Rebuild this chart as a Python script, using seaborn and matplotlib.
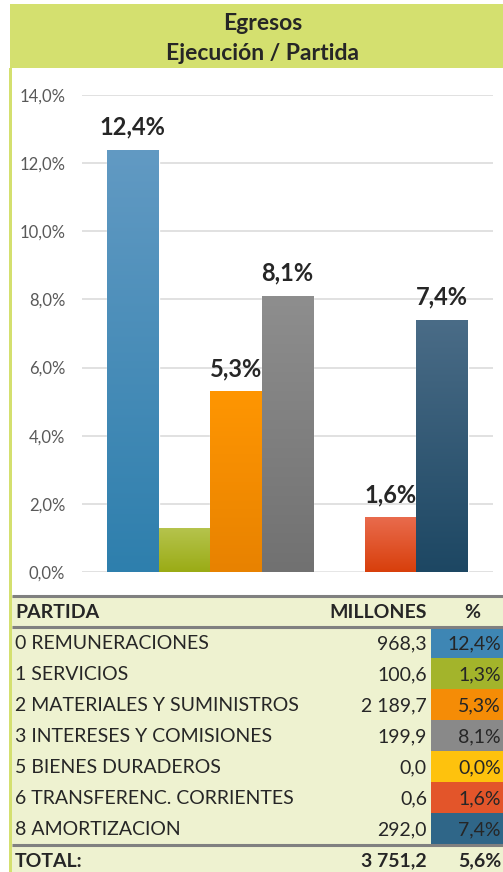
import numpy as np
import pandas as pd
import matplotlib
matplotlib.use("Agg")
import matplotlib.pyplot as plt
from matplotlib.patches import Rectangle
from matplotlib.colors import LinearSegmentedColormap
from matplotlib.ticker import FuncFormatter
import seaborn as sns

# data
partidas = ["0 REMUNERACIONES", "1 SERVICIOS", "2 MATERIALES Y SUMINISTROS",
            "3 INTERESES Y COMISIONES", "5 BIENES DURADEROS",
            "6 TRANSFERENC. CORRIENTES", "8 AMORTIZACION"]
millones = [968.3, 100.6, 2189.7, 199.9, 0.0, 0.6, 292.0]
pct = [12.4, 1.3, 5.3, 8.1, 0.0, 1.6, 7.4]
show_label = [True, False, True, True, False, True, True]
total_millones = 3751.2
total_pct = 5.6

cell_colors = ["#3e86b4", "#a3b42b", "#f58c06", "#898989", "#fec20d", "#e3552a", "#2f6688"]
bar_top = ["#629ac3", "#b6c44e", "#ff9602", "#8e8e8e", "#fec20d", "#e96b4d", "#4a6c87"]
bar_bottom = ["#2e7fad", "#9aab15", "#e88200", "#717171", "#f0b000", "#d83f0b", "#1d4763"]

W, H = 503, 872
GREEN = "#d4e06f"
TABLE_BG = "#eef2d0"
LINE = "#808080"
FS = 14


def fmt_num(v):
    return f"{v:,.1f}".replace(",", " ").replace(".", ",")


def fmt_pct(v):
    return f"{v:.1f}%".replace(".", ",")


sns.set_theme(style="white")
plt.rcParams["font.family"] = ["Lato", "DejaVu Sans"]

fig = plt.figure(figsize=(W / 100, H / 100), dpi=100)

# background canvas in pixel coordinates
bg = fig.add_axes([0, 0, 1, 1])
bg.set_xlim(0, W)
bg.set_ylim(H, 0)
bg.axis("off")

bg.add_patch(Rectangle((10, 4), W - 10, 64, color=GREEN, lw=0))
bg.add_patch(Rectangle((9.5, 68), 2.5, H - 68, color=GREEN, lw=0))
bg.text(263, 23, "Egresos", ha="center", va="center", fontsize=16.5, fontweight="bold")
bg.text(263, 54, "Ejecución / Partida", ha="center", va="center", fontsize=16.5, fontweight="bold")

# table
bg.add_patch(Rectangle((12, 596), W - 12, H - 596, color=TABLE_BG, lw=0))
row_top, row_h = 627, 31
for i, (name, m, p) in enumerate(zip(partidas, millones, pct)):
    y0 = row_top + i * row_h
    yc = y0 + row_h / 2 + 1
    bg.add_patch(Rectangle((431, y0), W - 431, row_h, color=cell_colors[i], lw=0))
    bg.text(15, yc, name, ha="left", va="center", fontsize=FS)
    bg.text(427, yc, fmt_num(m), ha="right", va="center", fontsize=FS)
    bg.text(501, yc, fmt_pct(p), ha="right", va="center", fontsize=FS)

for y in (596, 627, 845):
    bg.plot([12, W], [y, y], color=LINE, lw=2.2, solid_capstyle="butt")

bg.text(15, 612, "PARTIDA", ha="left", va="center", fontsize=FS, fontweight="bold")
bg.text(427, 612, "MILLONES", ha="right", va="center", fontsize=FS, fontweight="bold")
bg.text(472, 612, "%", ha="center", va="center", fontsize=FS, fontweight="bold")
bg.text(15, 861, "TOTAL:", ha="left", va="center", fontsize=FS, fontweight="bold")
bg.text(427, 861, fmt_num(total_millones), ha="right", va="center", fontsize=FS, fontweight="bold")
bg.text(501, 861, fmt_pct(total_pct), ha="right", va="center", fontsize=FS, fontweight="bold")

# bar chart
ax_left, ax_right, ax_bot, ax_top = 82, 493, 572, 95
ax = fig.add_axes([ax_left / W, (H - ax_bot) / H, (ax_right - ax_left) / W, (ax_bot - ax_top) / H])
ax.patch.set_alpha(0)

df = pd.DataFrame({"partida": partidas, "pct": pct})
sns.barplot(data=df, x="partida", y="pct", hue="partida", palette=cell_colors,
            width=1.0, legend=False, ax=ax, saturation=1)

ax.set_xlim(-0.985, 6.985)
ax.set_ylim(0, 14)
ax.set_yticks(np.arange(0, 14.1, 2))
ax.yaxis.set_major_formatter(FuncFormatter(lambda v, _: fmt_pct(v)))
ax.tick_params(axis="y", length=0, pad=12, labelsize=12, labelcolor="#595959")
ax.set_xticks([])
ax.set_xlabel("")
ax.set_ylabel("")
ax.grid(axis="y", color="#d9d9d9", lw=1.1)
ax.set_axisbelow(True)
for s in ax.spines.values():
    s.set_visible(False)

# vertical gradient on bars
for i, patch in enumerate(ax.patches):
    x0, y0 = patch.get_x(), patch.get_y()
    w, h = patch.get_width(), patch.get_height()
    if h <= 0:
        continue
    cmap = LinearSegmentedColormap.from_list(f"g{i}", [bar_bottom[i], bar_top[i]])
    grad = np.linspace(0, 1, 256).reshape(-1, 1)
    im = ax.imshow(grad, cmap=cmap, origin="lower", aspect="auto",
                   extent=(x0, x0 + w, y0, y0 + h), zorder=patch.get_zorder() + 0.1)
    im.set_clip_path(patch)

ax.set_xlim(-0.985, 6.985)
ax.set_ylim(0, 14)

for i, (p, show) in enumerate(zip(pct, show_label)):
    if show:
        ax.annotate(fmt_pct(p), (i, p), xytext=(0, 11), textcoords="offset points",
                    ha="center", va="baseline", fontsize=17, fontweight="bold",
                    annotation_clip=False)

fig.savefig("out.png", dpi=100)
